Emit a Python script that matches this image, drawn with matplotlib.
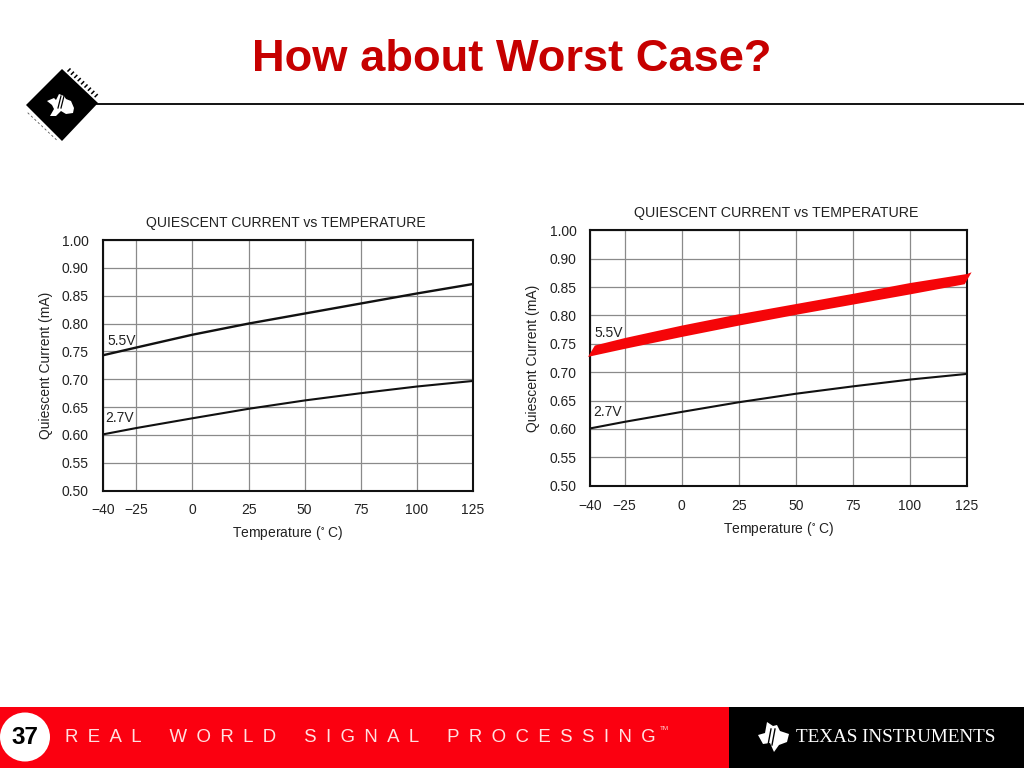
import matplotlib
matplotlib.use("Agg")
import matplotlib.pyplot as plt
from matplotlib.patches import Polygon, Rectangle, Ellipse

plt.rcParams['font.family'] = ['Liberation Sans', 'DejaVu Sans']

# ---- data ----
temps = [-40, -25, 0, 25, 50, 75, 100, 125]
current_5v5 = [0.743, 0.757, 0.780, 0.800, 0.818, 0.836, 0.854, 0.871]
current_2v7 = [0.601, 0.6125, 0.630, 0.647, 0.662, 0.675, 0.687, 0.697]
x_tick_labels = ['\u221240', '\u221225', '0', '25', '50', '75', '100', '125']
y_ticks = [0.50, 0.55, 0.60, 0.65, 0.70, 0.75, 0.80, 0.85, 0.90, 0.95]
y_tick_labels = ['0.50', '0.55', '0.60', '0.65', '0.70', '0.75', '0.80', '0.85', '0.90', '1.00']
band_upper_t = [-38, -25, 0, 25, 50, 75, 100, 125, 127]
band_upper = [0.747, 0.760, 0.782, 0.802, 0.820, 0.838, 0.857, 0.873, 0.876]
band_lower_t = [-41, -25, 0, 25, 50, 75, 100, 124]
band_lower = [0.727, 0.741, 0.762, 0.782, 0.801, 0.819, 0.837, 0.855]

slide_title = 'How about Worst Case?'
chart_title = 'QUIESCENT CURRENT vs TEMPERATURE'
x_label = 'Temperature ($\\mathregular{^{\\circ}}$ C)'
y_label = 'Quiescent Current (mA)'

W, H = 1024, 768
TXT = '#222222'
fig = plt.figure(figsize=(W / 100, H / 100), dpi=100, facecolor='white')


def make_axes(left, right, top, bottom):
    return fig.add_axes([left / W, 1 - bottom / H, (right - left) / W, (bottom - top) / H])


def draw_chart(box, title_xy, title_size, xlabel_xy, ylabel_xy, lw_5v5, lab5, lab2, pad_x):
    ax = make_axes(*box)
    ax.set_xlim(temps[0], temps[-1])
    ax.set_ylim(y_ticks[0], y_ticks[-1])
    ax.set_xticks(temps, x_tick_labels)
    ax.set_yticks(y_ticks, y_tick_labels)
    ax.tick_params(length=0, labelsize=10, labelcolor=TXT)
    ax.tick_params(axis='x', pad=pad_x)
    ax.tick_params(axis='y', pad=10)
    ax.grid(True, color='#8a8a8a', lw=0.9)
    ax.set_axisbelow(True)
    for s in ax.spines.values():
        s.set_linewidth(1.5)
        s.set_color('#111111')
    if lw_5v5:
        ax.plot(temps, current_5v5, color='#111111', lw=lw_5v5, solid_capstyle='butt')
    else:
        pts = list(zip(band_upper_t, band_upper)) + list(zip(band_lower_t, band_lower))[::-1]
        ax.add_patch(Polygon(pts, closed=True, fc='#f50508', ec='none', clip_on=False, zorder=5))
    ax.plot(temps, current_2v7, color='#111111', lw=1.5, solid_capstyle='butt')
    ax.text(lab5[0], lab5[1], '5.5V', fontsize=10, color=TXT, ha='center', va='center', zorder=6)
    ax.text(lab2[0], lab2[1], '2.7V', fontsize=10, color=TXT, ha='center', va='center', zorder=6)
    fig.text(title_xy[0] / W, 1 - title_xy[1] / H, chart_title, fontsize=title_size, color=TXT,
             ha='center', va='center')
    fig.text(xlabel_xy[0] / W, 1 - xlabel_xy[1] / H, x_label, fontsize=10, color=TXT,
             ha='center', va='center')
    fig.text(ylabel_xy[0] / W, 1 - ylabel_xy[1] / H, y_label, fontsize=10, color=TXT,
             ha='center', va='center', rotation=90)


# ---- slide furniture in pixel coordinates ----
bg = fig.add_axes([0, 0, 1, 1], zorder=0)
bg.set_xlim(0, W)
bg.set_ylim(H, 0)
bg.axis('off')
bg.text(512, 59.5, slide_title, fontsize=32.6, fontweight='bold', color='#c60000',
        ha='center', va='center')
bg.plot([97, W], [104, 104], color='black', lw=1.3)
bg.add_patch(Polygon([(62, 69), (98, 103), (62, 141), (26, 105)], fc='black', ec='none'))
for i in range(9):
    bg.plot([68 + i * 3.4, 70 + i * 3.4], [71 + i * 3.2, 69 + i * 3.2], color='black', lw=1.1)
    bg.plot([28 + i * 3.4, 29 + i * 3.4], [113 + i * 3.2, 114 + i * 3.2], color='#555555', lw=0.6)
bg.add_patch(Polygon([(47, 101), (54, 98), (56, 100), (59, 94), (64, 96), (66, 99), (71, 101),
                     (74, 108), (73, 113), (66, 114), (61, 111), (56, 116), (50, 116),
                     (54, 109), (52, 105)], fc='white', ec='none'))
bg.plot([61, 58], [96, 108], color='black', lw=0.9)
bg.plot([64, 61], [96, 108], color='black', lw=0.9)

bg.add_patch(Rectangle((0, 707), 729, 61, fc='#fb0010', ec='none'))
bg.add_patch(Rectangle((729, 707), 295, 61, fc='black', ec='none'))
bg.add_patch(Ellipse((25, 737), 50, 49, fc='white', ec='none'))
bg.text(25, 737.5, '37', fontsize=17.5, fontweight='bold', color='black', ha='center', va='center')
sp = '\u2002'
footer = '\u2003\u2002'.join(sp.join(w) for w in ['REAL', 'WORLD', 'SIGNAL', 'PROCESSING'])
bg.text(65, 738, footer, fontsize=13.4, color='#ffe0e0', ha='left', va='center')
bg.text(660, 729, 'TM', fontsize=4.5, color='#ffd0d0', ha='left', va='center')
bg.add_patch(Polygon([(758, 735), (765, 733), (767, 722), (773, 726), (777, 725), (780, 731),
                     (789, 734), (787, 742), (779, 745), (774, 752), (770, 743), (763, 744)],
                     fc='white', ec='none'))
bg.plot([771, 768], [729, 745], color='black', lw=1)
bg.plot([775, 772], [729, 745], color='black', lw=1)
bg.text(796, 738, 'TEXAS INSTRUMENTS', fontsize=13.8, family='Liberation Serif', color='white',
        ha='left', va='center')

# ---- the two charts ----
draw_chart((102.7, 473, 240, 490.7), (286, 223.5), 10.1, (288, 533.5), (46.5, 365), 1.7,
           (-31.4, 0.769), (-32.3, 0.6305), 9.2)
draw_chart((590.3, 967, 230.3, 485.7), (776.5, 213.5), 10.3, (779, 529.5), (532.5, 358), None,
           (-31.8, 0.769), (-32.4, 0.63), 9.4)

fig.savefig('out.png', dpi=100)
